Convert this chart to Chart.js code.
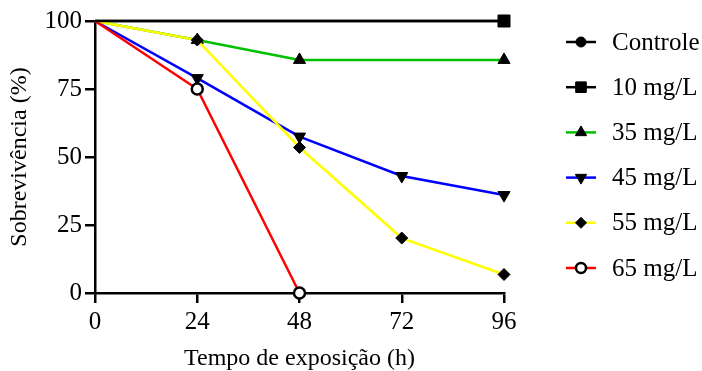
<!DOCTYPE html>
<html>
<head>
<meta charset="utf-8">
<script src="https://cdn.jsdelivr.net/npm/chart.js@4"></script>
<style>
  html, body { margin: 0; padding: 0; background: #fff; }
</style>
</head>
<body>
<canvas id="grafico" width="702" height="371"></canvas>
<script>
// dados
const seriesNames = ['Controle', '10 mg/L', '35 mg/L', '45 mg/L', '55 mg/L', '65 mg/L'];
const xTicks = [0, 24, 48, 72, 96];
const yTicks = [0, 25, 50, 75, 100];

const controleX = [0, 96];
const controleY = [100, 100];
const mg10X = [0, 96];
const mg10Y = [100, 100];
const mg35X = [0, 24, 48, 96];
const mg35Y = [100, 93, 85.7, 85.7];
const mg45X = [0, 24, 48, 72, 96];
const mg45Y = [100, 79, 57.5, 43, 36];
const mg55X = [0, 24, 48, 72, 96];
const mg55Y = [100, 93, 53.5, 20.2, 6.8];
const mg65X = [0, 24, 48];
const mg65Y = [100, 75, 0];

const cores = ['#000000', '#000000', '#00c000', '#0000ff', '#ffff00', '#ff0000'];
const estilos = [
  { pointStyle: 'circle', rotation: 0, radius: 5.5, fill: '#000' },
  { pointStyle: 'rect', rotation: 0, radius: 8.5, fill: '#000' },
  { pointStyle: 'triangle', rotation: 0, radius: 7, fill: '#000' },
  { pointStyle: 'triangle', rotation: 180, radius: 7, fill: '#000' },
  { pointStyle: 'rectRot', rotation: 0, radius: 6, fill: '#000' },
  { pointStyle: 'circle', rotation: 0, radius: 5.5, fill: '#fff' }
];

const xs = [controleX, mg10X, mg35X, mg45X, mg55X, mg65X];
const ys = [controleY, mg10Y, mg35Y, mg45Y, mg55Y, mg65Y];

function pontos(xArr, yArr) {
  return xArr.map((x, i) => ({ x: x, y: yArr[i] }));
}

const datasets = seriesNames.map((nome, i) => ({
  label: nome,
  data: pontos(xs[i], ys[i]),
  borderColor: cores[i],
  borderWidth: 2.5,
  pointStyle: estilos[i].pointStyle,
  rotation: estilos[i].rotation,
  // sem marcador no tempo 0
  pointRadius: xs[i].map(x => x === 0 ? 0 : estilos[i].radius),
  pointBackgroundColor: estilos[i].fill,
  pointBorderColor: '#000',
  pointBorderWidth: i === 5 ? 2.5 : 1,
  tension: 0,
  clip: false,
  order: i === 1 ? -1 : 5 - i
}));

const fonte = 'Liberation Serif, Times New Roman, serif';

// legenda com linha + marcador
const legendaPlugin = {
  id: 'legendaLinha',
  afterDraw(chart) {
    const ctx = chart.ctx;
    chart.data.datasets.forEach((ds, i) => {
      const y = 42 + i * 45.2;
      ctx.save();
      ctx.strokeStyle = ds.borderColor;
      ctx.lineWidth = 2.5;
      ctx.beginPath();
      ctx.moveTo(566, y);
      ctx.lineTo(596, y);
      ctx.stroke();
      ctx.fillStyle = estilos[i].fill;
      ctx.strokeStyle = '#000';
      ctx.lineWidth = i === 5 ? 2.5 : 1;
      Chart.helpers.drawPoint(ctx, {
        pointStyle: estilos[i].pointStyle,
        rotation: estilos[i].rotation,
        radius: i === 1 ? 7.5 : estilos[i].radius - 0.5,
        borderWidth: ctx.lineWidth
      }, 581, y);
      ctx.fillStyle = '#000';
      ctx.font = '25px ' + fonte;
      ctx.textBaseline = 'middle';
      ctx.textAlign = 'left';
      ctx.fillText(ds.label, 612, y + 1);
      ctx.restore();
    });
  }
};

new Chart(document.getElementById('grafico'), {
  type: 'line',
  data: { datasets: datasets },
  options: {
    responsive: false,
    animation: false,
    layout: { padding: { top: 21, right: 198, bottom: 0, left: 0 } },
    plugins: { legend: { display: false }, tooltip: { enabled: false } },
    scales: {
      x: {
        type: 'linear',
        min: 0,
        max: 96,
        afterBuildTicks: axis => { axis.ticks = xTicks.map(v => ({ value: v })); },
        afterFit: axis => { axis.height = 78; },
        grid: { drawOnChartArea: false, drawTicks: true, tickLength: 10, color: '#000', lineWidth: 2.5 },
        border: { color: '#000', width: 2.5 },
        ticks: { color: '#000', font: { family: fonte, size: 25 }, padding: 4, maxRotation: 0 },
        title: { display: true, text: 'Tempo de exposição (h)', color: '#000', font: { family: fonte, size: 24, lineHeight: 1 }, padding: { top: 0, bottom: 0 } }
      },
      y: {
        min: 0,
        max: 100,
        afterBuildTicks: axis => { axis.ticks = yTicks.map(v => ({ value: v })); },
        afterFit: axis => { axis.width = 95; },
        grid: { drawOnChartArea: false, drawTicks: true, tickLength: 10, color: '#000', lineWidth: 2.5 },
        border: { color: '#000', width: 2.5 },
        ticks: { color: '#000', font: { family: fonte, size: 25 }, padding: 3 },
        title: { display: true, text: 'Sobrevivência (%)', color: '#000', font: { family: fonte, size: 24 }, padding: { top: 5, bottom: 0 } }
      }
    }
  },
  plugins: [legendaPlugin]
});
</script>
</body>
</html>
